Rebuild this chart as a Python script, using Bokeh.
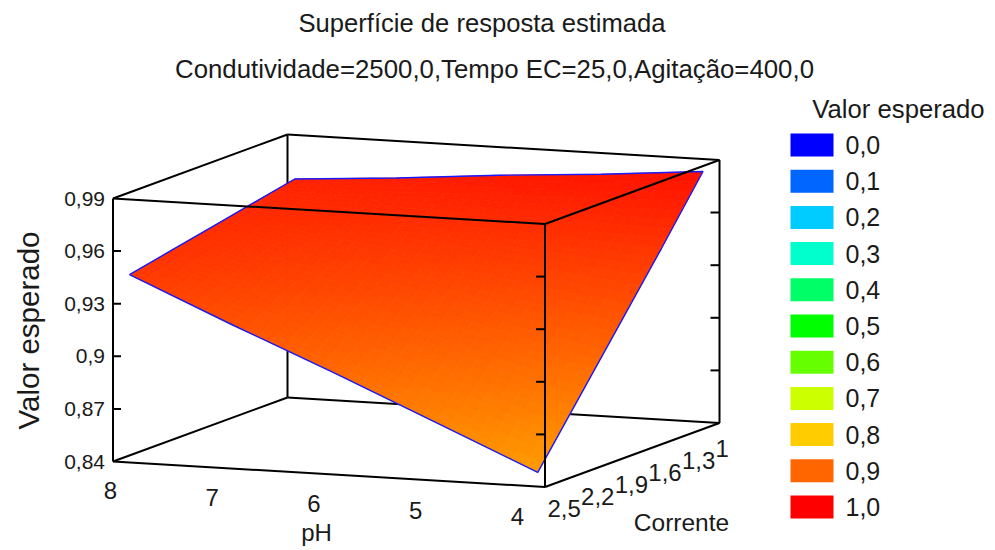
import numpy as np
from bokeh.plotting import figure
from bokeh.embed import file_html
from bokeh.resources import INLINE
from bokeh.core.properties import value

# ---- data ----
title_lines = ["Superfície de resposta estimada",
               "Condutividade=2500,0,Tempo EC=25,0,Agitação=400,0"]
ph_ticks = [8, 7, 6, 5, 4]
ph_labels = ["8", "7", "6", "5", "4"]
cor_ticks = [2.5, 2.2, 1.9, 1.6, 1.3, 1.0]
cor_labels = ["2,5", "2,2", "1,9", "1,6", "1,3", "1"]
val_ticks = [0.84, 0.87, 0.90, 0.93, 0.96, 0.99]
val_labels = ["0,84", "0,87", "0,9", "0,93", "0,96", "0,99"]
legend_title = "Valor esperado"
legend_levels = [0.0, 0.1, 0.2, 0.3, 0.4, 0.5, 0.6, 0.7, 0.8, 0.9, 1.0]
legend_labels = ["0,0", "0,1", "0,2", "0,3", "0,4", "0,5", "0,6", "0,7", "0,8", "0,9", "1,0"]
legend_colors = ["#0000FF", "#0066FF", "#00CCFF", "#00FFCC", "#00FF66", "#00FF00",
                 "#66FF00", "#CCFF00", "#FFCC00", "#FF6600", "#FF0000"]
surf_ph = [7.89, 6.945, 6.0, 5.055, 4.11]
surf_cor = [2.46, 2.105, 1.75, 1.395, 1.04]
surf_val = [
    [0.946, 0.921, 0.897, 0.872, 0.847],
    [0.951, 0.934, 0.916, 0.899, 0.881],
    [0.956, 0.946, 0.936, 0.925, 0.915],
    [0.961, 0.958, 0.955, 0.952, 0.949],
    [0.966, 0.970, 0.975, 0.979, 0.984],
]

# ---- oblique projection of the box (layout) ----
ORIGIN = np.array([112.5, 461.0])
PH_VEC = np.array([432.0, 25.5])
COR_VEC = np.array([174.5, -64.0])
VAL_VEC = np.array([0.0, -263.0])


def proj(ph, cor, val):
    a = (8 - np.asarray(ph, float)) / 4
    b = (2.5 - np.asarray(cor, float)) / 1.5
    c = (np.asarray(val, float) - 0.84) / 0.15
    return (ORIGIN[0] + a * PH_VEC[0] + b * COR_VEC[0] + c * VAL_VEC[0],
            ORIGIN[1] + a * PH_VEC[1] + b * COR_VEC[1] + c * VAL_VEC[1])


def colour(v):
    r = np.interp(v, legend_levels, [int(c[1:3], 16) for c in legend_colors])
    g = np.interp(v, legend_levels, [int(c[3:5], 16) for c in legend_colors])
    b = np.interp(v, legend_levels, [int(c[5:7], 16) for c in legend_colors])
    return "#%02x%02x%02x" % (int(round(r)), int(round(g)), int(round(b)))


p = figure(width=995, height=550, x_range=(0, 995), y_range=(550, 0),
           output_backend="svg", toolbar_location=None, min_border=0)
p.axis.visible = False
p.grid.visible = False
p.outline_line_color = None
p.background_fill_color = "white"
p.border_fill_color = "white"

FONT = value("Liberation Sans")
TXT = "#1a1a1a"


def seg(a, b, width=2):
    p.line([a[0], b[0]], [a[1], b[1]], line_color="black", line_width=width)


lo, hi = val_ticks[0], val_ticks[-1]
# back edges
seg(proj(8, 1, hi), proj(4, 1, hi))
seg(proj(8, 2.5, hi), proj(8, 1, hi))
seg(proj(8, 1, lo), proj(8, 1, hi))
seg(proj(8, 1, lo), proj(4, 1, lo))
seg(proj(8, 2.5, lo), proj(8, 1, lo))
seg(proj(4, 1, lo), proj(4, 1, hi))
seg(proj(8, 2.5, lo), proj(8, 2.5, hi))
for v in val_ticks[1:-1]:
    x, y = proj(8, 2.5, v)
    seg((x, y), (x + 8, y))
    x, y = proj(4, 1, v)
    seg((x, y), (x - 9, y))

# surface, shaded smoothly between the read grid values
N = 8
xs, ys, cols = [], [], []
sv = np.array(surf_val)
rows, colsn = sv.shape


def sample(i, j, u, w):
    ph = surf_ph[j] + (surf_ph[j + 1] - surf_ph[j]) * u
    cor = surf_cor[i] + (surf_cor[i + 1] - surf_cor[i]) * w
    val = (sv[i, j] * (1 - u) * (1 - w) + sv[i, j + 1] * u * (1 - w)
           + sv[i + 1, j] * (1 - u) * w + sv[i + 1, j + 1] * u * w)
    return ph, cor, val


for i in range(rows - 1):
    for j in range(colsn - 1):
        for m in range(N):
            for n in range(N):
                corners = [sample(i, j, m / N, n / N), sample(i, j, (m + 1) / N, n / N),
                           sample(i, j, (m + 1) / N, (n + 1) / N), sample(i, j, m / N, (n + 1) / N)]
                qx, qy = zip(*[proj(*c) for c in corners])
                xs.append(list(map(float, qx)))
                ys.append(list(map(float, qy)))
                cols.append(colour(np.mean([c[2] for c in corners])))
p.patches(xs, ys, fill_color=cols, line_color=cols, line_width=0.8)

# surface outline
ex, ey = [], []
for j in range(colsn):
    x, y = proj(surf_ph[j], surf_cor[0], sv[0, j]); ex.append(float(x)); ey.append(float(y))
for i in range(1, rows):
    x, y = proj(surf_ph[-1], surf_cor[i], sv[i, -1]); ex.append(float(x)); ey.append(float(y))
for j in range(colsn - 2, -1, -1):
    x, y = proj(surf_ph[j], surf_cor[-1], sv[-1, j]); ex.append(float(x)); ey.append(float(y))
for i in range(rows - 2, -1, -1):
    x, y = proj(surf_ph[0], surf_cor[i], sv[i, 0]); ex.append(float(x)); ey.append(float(y))
p.line(ex, ey, line_color="#1a1aff", line_width=1.4)

# front edges
seg(proj(8, 2.5, hi), proj(4, 2.5, hi))
seg(proj(4, 2.5, hi), proj(4, 1, hi))
seg(proj(8, 2.5, lo), proj(4, 2.5, lo))
seg(proj(4, 2.5, lo), proj(4, 1, lo))
seg(proj(4, 2.5, lo), proj(4, 2.5, hi))
for v in val_ticks[1:-1]:
    x, y = proj(4, 2.5, v)
    seg((x, y), (x - 9, y))


def text(x, y, s, size, align="center", angle=0.0):
    p.text([x], [y], text=[s], text_font=FONT, text_font_size=size, text_color=TXT,
           text_align=align, text_baseline="middle", angle=angle)


text(481.5, 22, title_lines[0], "25.6px")
text(494, 68, title_lines[1], "25.8px")

for v, s in zip(val_ticks, val_labels):
    x, y = proj(8, 2.5, v)
    text(float(x) - 8, float(y), s, "21px", "right")

for ph, s in zip(ph_ticks, ph_labels):
    a = (8 - ph) / 4
    text(110 + 407 * a, 490 + 26 * a, s, "24px")

for cor, s in zip(cor_ticks, cor_labels):
    b = (2.5 - cor) / 1.5
    text(547 + 168 * b, 508 - 60 * b, s, "24px", "left")

text(316, 532, "pH", "24px")
text(681, 522, "Corrente", "24.5px")
text(28, 330, "Valor esperado", "29.5px", angle=np.pi / 2)

text(898, 108, legend_title, "25.7px")
y0, dy = 144.5, 36.2
for k, (c, s) in enumerate(zip(legend_colors, legend_labels)):
    yc = y0 + dy * k
    p.quad(left=[790], right=[833], top=[yc - 11.5], bottom=[yc + 11.5], fill_color=c, line_color=None)
    text(845, yc, s, "25px", "left")

open("out.html", "w").write(file_html(p, INLINE))
